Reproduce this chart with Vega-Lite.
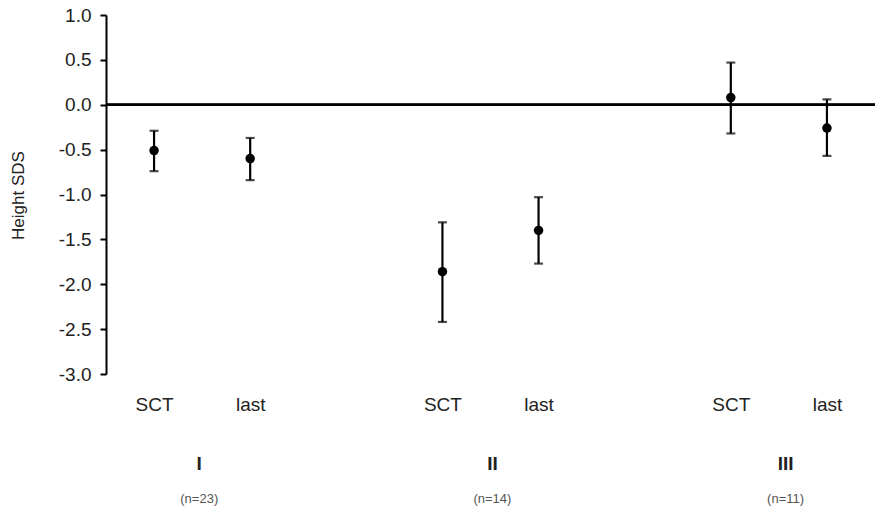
{
  "$schema": "https://vega.github.io/schema/vega-lite/v6.json",
  "width": 769,
  "height": 359,
  "autosize": "none",
  "padding": {"left": 106, "top": 15, "right": 0, "bottom": 140},
  "config": {
    "view": {"stroke": null},
    "font": "Liberation Sans",
    "axis": {"grid": false}
  },
  "datasets": {
    "pts": [
      {"group": "I", "time": "SCT", "pos": 1, "mean": -0.51, "lo": -0.74, "hi": -0.29},
      {"group": "I", "time": "last", "pos": 2, "mean": -0.60, "lo": -0.84, "hi": -0.37},
      {"group": "II", "time": "SCT", "pos": 4, "mean": -1.86, "lo": -2.42, "hi": -1.31},
      {"group": "II", "time": "last", "pos": 5, "mean": -1.40, "lo": -1.77, "hi": -1.03},
      {"group": "III", "time": "SCT", "pos": 7, "mean": 0.08, "lo": -0.32, "hi": 0.47},
      {"group": "III", "time": "last", "pos": 8, "mean": -0.26, "lo": -0.57, "hi": 0.06}
    ],
    "groups": [
      {"group": "I", "center": 1.47, "n": "(n=23)"},
      {"group": "II", "center": 4.52, "n": "(n=14)"},
      {"group": "III", "center": 7.57, "n": "(n=11)"}
    ]
  },
  "layer": [
    {
      "data": {"name": "pts"},
      "mark": {"type": "rule", "color": "black", "strokeWidth": 2},
      "encoding": {
        "y": {"datum": 0, "type": "quantitative", "scale": {"domain": [-3, 1], "nice": false, "zero": false},
          "axis": {
            "values": [-3, -2.5, -2, -1.5, -1, -0.5, 0, 0.5, 1],
            "labelExpr": "replace(format(datum.value, '.1f'), '\u2212', '-')",
            "title": "Height SDS",
            "titleFont": "Liberation Sans",
            "titleFontSize": 17,
            "titleFontWeight": "normal",
            "titleColor": "#222",
            "titleX": -88,
            "titleY": 180,
            "titleAngle": -90,
            "titleAlign": "center",
            "titleBaseline": "middle",
            "labelFontSize": 19,
            "labelColor": "#222",
            "labelPadding": 9,
            "domainColor": "black",
            "domainWidth": 2,
            "tickColor": "black",
            "tickWidth": 2,
            "tickSize": 6
          }
        }
      }
    },
    {
      "data": {"name": "pts"},
      "mark": {"type": "rule", "color": "black", "strokeWidth": 2.2},
      "encoding": {
        "x": {"field": "pos", "type": "quantitative", "scale": {"domain": [0.5, 8.5], "nice": false, "zero": false},
          "axis": {
            "values": [1, 2, 4, 5, 7, 8],
            "labelExpr": "datum.value == 1 || datum.value == 4 || datum.value == 7 ? 'SCT' : 'last'",
            "title": null,
            "domain": false,
            "ticks": false,
            "labelFontSize": 19,
            "labelColor": "#222",
            "labelPadding": 21
          }
        },
        "y": {"field": "lo", "type": "quantitative"},
        "y2": {"field": "hi"}
      }
    },
    {
      "data": {"name": "pts"},
      "transform": [{"fold": ["lo", "hi"], "as": ["end", "val"]}],
      "mark": {"type": "tick", "orient": "horizontal", "color": "black", "thickness": 2.2, "size": 9},
      "encoding": {
        "x": {"field": "pos", "type": "quantitative"},
        "y": {"field": "val", "type": "quantitative"}
      }
    },
    {
      "data": {"name": "pts"},
      "mark": {"type": "point", "filled": true, "color": "black", "opacity": 1, "size": 90},
      "encoding": {
        "x": {"field": "pos", "type": "quantitative"},
        "y": {"field": "mean", "type": "quantitative"}
      }
    },
    {
      "data": {"name": "groups"},
      "mark": {"type": "text", "fontSize": 19, "fontWeight": "bold", "color": "#222", "baseline": "middle", "align": "center"},
      "encoding": {
        "x": {"field": "center", "type": "quantitative"},
        "y": {"datum": -4.0, "type": "quantitative"},
        "text": {"field": "group"}
      }
    },
    {
      "data": {"name": "groups"},
      "mark": {"type": "text", "fontSize": 13, "color": "#555", "baseline": "middle", "align": "center"},
      "encoding": {
        "x": {"field": "center", "type": "quantitative"},
        "y": {"datum": -4.39, "type": "quantitative"},
        "text": {"field": "n"}
      }
    }
  ]
}
